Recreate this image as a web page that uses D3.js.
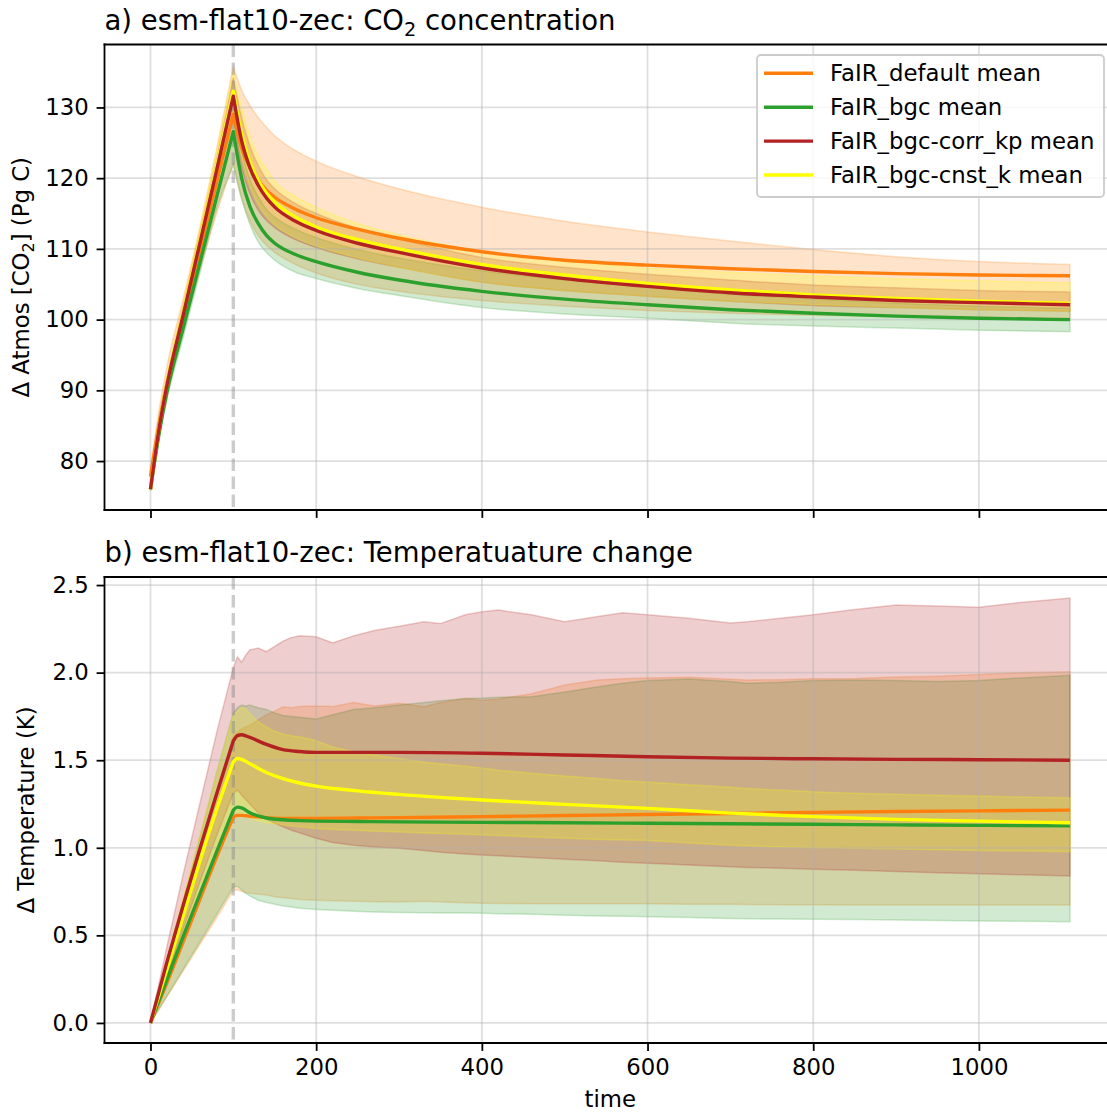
<!DOCTYPE html>
<html>
<head>
<meta charset="utf-8">
<script src="https://cdn.jsdelivr.net/npm/d3@7"></script>
<style>
  body { margin: 0; background: #fff; }
  text { font-family: "DejaVu Sans", sans-serif; fill: #000; }
</style>
</head>
<body>
<svg id="fig" width="1107" height="1113"></svg>
<script>
// ---------------- data: panel a, atmospheric CO2 (Pg C) ----------------
const tCo2 = [0, 10, 20, 40, 60, 80, 100, 110, 120, 130, 140, 150, 175, 200, 250, 300, 400, 500, 600, 700, 800, 900, 1000, 1110];

const co2DefaultMean = [77.8, 85.0, 91.0, 100.6, 110.0, 119.5, 129.0, 124.3, 121.5, 119.7, 118.3, 117.3, 115.6, 114.4, 112.8, 111.5, 109.6, 108.4, 107.7, 107.2, 106.8, 106.5, 106.3, 106.2];
const co2DefaultLo   = [77.0, 84.0, 89.8, 98.7, 107.2, 115.0, 122.1, 117.3, 114.0, 111.9, 110.5, 109.5, 107.8, 106.6, 105.0, 104.0, 102.7, 101.9, 101.3, 100.9, 100.6, 100.4, 100.3, 100.2];
const co2DefaultHi   = [79.0, 87.0, 93.5, 103.2, 113.2, 124.2, 135.8, 132.5, 130.3, 128.6, 127.2, 126.0, 123.9, 122.4, 120.2, 118.5, 115.9, 113.9, 112.4, 111.1, 109.9, 108.9, 108.2, 107.8];

const co2BgcMean = [76.0, 83.6, 89.8, 99.0, 108.2, 117.4, 126.6, 120.0, 116.0, 113.6, 111.9, 110.8, 109.2, 108.2, 106.7, 105.6, 104.0, 102.9, 102.1, 101.4, 100.9, 100.5, 100.2, 100.0];
const co2BgcLo   = [75.8, 83.2, 88.8, 97.7, 106.7, 115.7, 121.8, 117.0, 113.5, 111.0, 109.5, 108.4, 106.7, 105.8, 104.4, 103.4, 101.7, 100.8, 100.2, 99.5, 99.1, 98.8, 98.5, 98.3];
const co2BgcHi   = [76.5, 84.7, 90.6, 100.1, 109.6, 119.2, 130.0, 124.0, 119.8, 117.4, 115.6, 114.5, 112.8, 111.6, 109.9, 108.7, 106.9, 105.6, 104.6, 103.6, 102.9, 102.3, 101.9, 101.6];

const co2CorrMean = [76.0, 84.3, 90.8, 100.9, 111.0, 121.2, 131.6, 125.3, 121.5, 119.0, 117.2, 115.9, 113.9, 112.6, 110.8, 109.5, 107.3, 105.8, 104.7, 103.8, 103.2, 102.7, 102.4, 102.1];
const co2CorrLo   = [75.8, 84.1, 90.0, 99.8, 109.6, 119.5, 128.8, 121.5, 117.8, 115.5, 114.0, 113.0, 111.3, 110.2, 108.6, 107.4, 105.3, 104.1, 103.3, 102.6, 102.0, 101.7, 101.4, 101.2];
const co2CorrHi   = [76.3, 85.6, 91.7, 102.1, 112.4, 122.8, 134.2, 128.6, 124.6, 121.8, 119.8, 118.5, 116.4, 115.0, 112.9, 111.4, 108.8, 107.4, 106.4, 105.6, 104.9, 104.5, 104.1, 103.9];

const co2CnstMean = [76.0, 84.4, 91.0, 101.2, 111.4, 121.7, 132.3, 126.3, 122.3, 119.7, 117.9, 116.6, 114.5, 113.1, 111.3, 110.0, 107.8, 106.3, 105.1, 104.2, 103.5, 103.0, 102.6, 102.3];
const co2CnstLo   = [75.8, 84.3, 90.2, 100.1, 110.1, 120.1, 129.5, 123.0, 118.9, 116.3, 114.6, 113.4, 111.6, 110.4, 108.7, 107.4, 105.3, 104.1, 103.3, 102.6, 102.1, 101.7, 101.4, 101.2];
const co2CnstHi   = [76.5, 85.9, 92.1, 102.6, 113.1, 123.9, 135.3, 130.0, 126.0, 123.2, 121.3, 119.6, 117.4, 115.9, 113.6, 112.0, 109.6, 108.2, 107.3, 106.7, 106.2, 105.8, 105.5, 105.2];

// ---------------- data: panel b, temperature change (K) ----------------
const tTemp = [0, 20, 40, 60, 80, 100, 105, 110, 120, 140, 160, 180, 200, 250, 300, 400, 500, 600, 700, 800, 900, 1000, 1110];

const tempDefaultMean = [0, 0.23, 0.47, 0.71, 0.95, 1.175, 1.185, 1.185, 1.18, 1.172, 1.168, 1.167, 1.168, 1.17, 1.172, 1.178, 1.184, 1.19, 1.196, 1.202, 1.207, 1.211, 1.215];
const tempBgcMean     = [0, 0.25, 0.50, 0.74, 0.98, 1.215, 1.232, 1.228, 1.20, 1.17, 1.16, 1.155, 1.152, 1.15, 1.148, 1.145, 1.143, 1.14, 1.137, 1.134, 1.131, 1.128, 1.125];
const tempCorrMean    = [0, 0.35, 0.68, 1.00, 1.31, 1.61, 1.64, 1.645, 1.63, 1.59, 1.56, 1.55, 1.545, 1.545, 1.545, 1.54, 1.53, 1.52, 1.512, 1.508, 1.505, 1.503, 1.50];
const tempCnstMean    = [0, 0.31, 0.62, 0.93, 1.22, 1.49, 1.51, 1.505, 1.48, 1.43, 1.395, 1.37, 1.352, 1.325, 1.305, 1.273, 1.248, 1.225, 1.198, 1.178, 1.162, 1.152, 1.143];

const tTempBand = [0, 20, 40, 60, 80, 100, 105, 110, 115, 120, 130, 140, 150, 160, 170, 180, 200, 220, 245, 270, 300, 330, 350, 380, 400, 420, 460, 500, 540, 570, 600, 650, 700, 720, 760, 800, 850, 900, 950, 1000, 1050, 1110];

const tempDefaultLo = [0.00, 0.15, 0.30, 0.45, 0.60, 0.755, 0.76, 0.75, 0.745, 0.74, 0.735, 0.73, 0.72, 0.715, 0.71, 0.705, 0.70, 0.698, 0.695, 0.692, 0.69, 0.695, 0.69, 0.686, 0.683, 0.682, 0.681, 0.68, 0.68, 0.68, 0.68, 0.678, 0.677, 0.676, 0.675, 0.675, 0.674, 0.674, 0.673, 0.673, 0.673, 0.673];
const tempDefaultHi = [0.00, 0.33, 0.66, 0.99, 1.32, 1.64, 1.66, 1.68, 1.69, 1.70, 1.73, 1.76, 1.78, 1.805, 1.80, 1.806, 1.81, 1.806, 1.83, 1.81, 1.825, 1.806, 1.83, 1.853, 1.843, 1.85, 1.88, 1.929, 1.958, 1.965, 1.97, 1.973, 1.962, 1.958, 1.96, 1.965, 1.967, 1.975, 1.98, 1.99, 2.00, 2.005];

const tempBgcLo = [0.00, 0.155, 0.31, 0.465, 0.62, 0.775, 0.78, 0.76, 0.74, 0.725, 0.70, 0.688, 0.678, 0.668, 0.662, 0.655, 0.648, 0.643, 0.638, 0.634, 0.63, 0.629, 0.628, 0.627, 0.626, 0.624, 0.62, 0.615, 0.611, 0.609, 0.607, 0.602, 0.597, 0.595, 0.593, 0.592, 0.59, 0.588, 0.585, 0.582, 0.58, 0.578];
const tempBgcHi = [0.00, 0.36, 0.71, 1.07, 1.43, 1.77, 1.80, 1.815, 1.81, 1.815, 1.80, 1.79, 1.77, 1.755, 1.75, 1.745, 1.735, 1.76, 1.79, 1.80, 1.815, 1.83, 1.84, 1.853, 1.855, 1.86, 1.862, 1.89, 1.92, 1.94, 1.955, 1.963, 1.95, 1.94, 1.945, 1.955, 1.958, 1.955, 1.95, 1.955, 1.97, 1.985];

const tempCorrLo = [0.00, 0.27, 0.54, 0.81, 1.07, 1.31, 1.33, 1.30, 1.275, 1.25, 1.20, 1.165, 1.14, 1.12, 1.10, 1.085, 1.055, 1.03, 1.015, 1.005, 0.997, 0.985, 0.975, 0.965, 0.959, 0.954, 0.945, 0.935, 0.926, 0.918, 0.912, 0.902, 0.892, 0.888, 0.883, 0.878, 0.872, 0.865, 0.858, 0.852, 0.846, 0.839];
const tempCorrHi = [0.00, 0.44, 0.86, 1.26, 1.66, 2.03, 2.09, 2.06, 2.10, 2.13, 2.14, 2.12, 2.15, 2.18, 2.20, 2.21, 2.205, 2.17, 2.21, 2.24, 2.265, 2.29, 2.28, 2.33, 2.348, 2.357, 2.33, 2.29, 2.32, 2.342, 2.33, 2.31, 2.283, 2.29, 2.31, 2.33, 2.36, 2.386, 2.38, 2.374, 2.40, 2.426];

const tempCnstLo = [0.00, 0.23, 0.47, 0.71, 0.95, 1.18, 1.19, 1.19, 1.18, 1.17, 1.155, 1.145, 1.137, 1.13, 1.125, 1.12, 1.11, 1.105, 1.10, 1.095, 1.09, 1.085, 1.082, 1.077, 1.073, 1.07, 1.062, 1.055, 1.048, 1.044, 1.041, 1.028, 1.015, 1.01, 1.005, 1.00, 0.997, 0.993, 0.989, 0.985, 0.982, 0.978];
const tempCnstHi = [0.00, 0.37, 0.73, 1.08, 1.43, 1.76, 1.78, 1.80, 1.795, 1.765, 1.72, 1.69, 1.665, 1.65, 1.64, 1.634, 1.612, 1.575, 1.55, 1.53, 1.51, 1.49, 1.48, 1.465, 1.455, 1.443, 1.425, 1.41, 1.395, 1.383, 1.375, 1.36, 1.345, 1.339, 1.33, 1.32, 1.311, 1.305, 1.30, 1.295, 1.29, 1.286];

// ---------------- labels & ticks ----------------
const runNames  = ["FaIR_default mean", "FaIR_bgc mean", "FaIR_bgc-corr_kp mean", "FaIR_bgc-cnst_k mean"];
const runColors = ["#ff7f0e", "#2ca02c", "#b22222", "#ffff00"];
const xTicks    = [0, 200, 400, 600, 800, 1000];
const co2Ticks  = [80, 90, 100, 110, 120, 130];
const tempTicks = [0, 0.5, 1.0, 1.5, 2.0, 2.5];
const emissionStop = 100;   // end of the flat10 emission phase

// ---------------- assemble series ----------------
const runs = runNames.map((name, i) => ({ name, color: runColors[i] }));
runs[0].co2 = { mean: co2DefaultMean, lo: co2DefaultLo, hi: co2DefaultHi };
runs[1].co2 = { mean: co2BgcMean, lo: co2BgcLo, hi: co2BgcHi };
runs[2].co2 = { mean: co2CorrMean, lo: co2CorrLo, hi: co2CorrHi };
runs[3].co2 = { mean: co2CnstMean, lo: co2CnstLo, hi: co2CnstHi };
runs[0].temp = { mean: tempDefaultMean, lo: tempDefaultLo, hi: tempDefaultHi };
runs[1].temp = { mean: tempBgcMean, lo: tempBgcLo, hi: tempBgcHi };
runs[2].temp = { mean: tempCorrMean, lo: tempCorrLo, hi: tempCorrHi };
runs[3].temp = { mean: tempCnstMean, lo: tempCnstLo, hi: tempCnstHi };

// ---------------- layout ----------------
const svg = d3.select("#fig");
const FS = 22.8, TITLE_FS = 27.5;
const axLeft = 104.5, axRight = 1116;
const x = d3.scaleLinear().domain([-55.5, 1165.5]).range([axLeft, axRight]);

const panels = [
  { key: "co2", top: 44.5, bottom: 510, domain: [73.08, 138.9], ticks: co2Ticks, fmt: d3.format("d"),
    bandT: tCo2, meanT: tCo2, bandCurve: d3.curveMonotoneX, xLabels: false,
    title: ["a) esm-flat10-zec: CO", "2", " concentration"], ylabel: ["\u0394 Atmos [CO", "2", "] (Pg C)"], ylabelX: 29 },
  { key: "temp", top: 577, bottom: 1043, domain: [-0.1145, 2.546], ticks: tempTicks, fmt: d3.format(".1f"),
    bandT: tTempBand, meanT: tTemp, bandCurve: d3.curveLinear, xLabels: true,
    title: ["b) esm-flat10-zec: Temperatuature change"], ylabel: ["\u0394 Temperature (K)"], ylabelX: 34 }
];

// path through points with a sharp corner at index k (each side smoothed separately)
function kinkedLine(gen, pts, k) {
  if (k < 0) return gen(pts);
  return gen(pts.slice(0, k + 1)) + gen(pts.slice(k)).replace(/^M/, "L");
}

function bandPath(t, lo, hi, y, curve) {
  const gen = d3.line().curve(curve);
  const k = t.indexOf(emissionStop);
  const up = t.map((d, i) => [x(d), y(hi[i])]);
  const dn = t.map((d, i) => [x(d), y(lo[i])]).reverse();
  const upper = kinkedLine(gen, up, k);
  const lower = kinkedLine(gen, dn, k < 0 ? -1 : t.length - 1 - k);
  return upper + "L" + lower.slice(1) + "Z";
}

function writeRich(sel, parts, fs) {
  // parts: [text, subscript, text] ; subscript drawn smaller and lowered
  sel.append("tspan").text(parts[0]);
  if (parts.length > 1) {
    const shift = fs * 0.22;
    sel.append("tspan").attr("dy", shift).attr("font-size", fs * 0.7).text(parts[1]);
    sel.append("tspan").attr("dy", -shift).text(parts[2]);
  }
}

panels.forEach((p, pi) => {
  const y = d3.scaleLinear().domain(p.domain).range([p.bottom, p.top]);
  const g = svg.append("g");
  const clipId = "clip" + pi;
  svg.append("clipPath").attr("id", clipId).append("rect")
    .attr("x", axLeft).attr("y", p.top).attr("width", axRight - axLeft).attr("height", p.bottom - p.top);

  const plot = g.append("g").attr("clip-path", `url(#${clipId})`);

  // spread bands
  runs.forEach(r => {
    const s = r[p.key];
    plot.append("path")
      .attr("d", bandPath(p.bandT, s.lo, s.hi, y, p.bandCurve))
      .attr("fill", r.color).attr("fill-opacity", 0.22)
      .attr("stroke", r.color).attr("stroke-opacity", 0.22).attr("stroke-width", 1.5);
  });

  // grid
  plot.append("g").selectAll("line").data(xTicks).join("line")
    .attr("x1", d => x(d)).attr("x2", d => x(d)).attr("y1", p.top).attr("y2", p.bottom)
    .attr("stroke", "#b0b0b0").attr("stroke-opacity", 0.4).attr("stroke-width", 1.8);
  plot.append("g").selectAll("line").data(p.ticks).join("line")
    .attr("x1", axLeft).attr("x2", axRight).attr("y1", d => y(d)).attr("y2", d => y(d))
    .attr("stroke", "#b0b0b0").attr("stroke-opacity", 0.4).attr("stroke-width", 1.8);

  // end of emissions marker
  plot.append("line")
    .attr("x1", x(emissionStop)).attr("x2", x(emissionStop)).attr("y1", p.top).attr("y2", p.bottom)
    .attr("stroke", "gray").attr("stroke-opacity", 0.4).attr("stroke-width", 3.4)
    .attr("stroke-dasharray", "12.6,5.4");

  // ensemble means
  const gen = d3.line().curve(d3.curveMonotoneX);
  const k = p.meanT.indexOf(emissionStop);
  [0, 1, 3, 2].forEach(i => {
    const r = runs[i];
    const pts = p.meanT.map((d, j) => [x(d), y(r[p.key].mean[j])]);
    plot.append("path").attr("d", kinkedLine(gen, pts, k))
      .attr("fill", "none").attr("stroke", r.color).attr("stroke-width", 3.4)
      .attr("stroke-linejoin", "round").attr("stroke-linecap", "butt");
  });

  // axes
  const xa = g.append("g").attr("transform", `translate(0,${p.bottom})`)
    .call(d3.axisBottom(x).tickValues(xTicks).tickSize(7.9).tickPadding(7.9)
      .tickFormat(p.xLabels ? d3.format("d") : ""));
  const ya = g.append("g").attr("transform", `translate(${axLeft},0)`)
    .call(d3.axisLeft(y).tickValues(p.ticks).tickSize(7.9).tickPadding(7.9).tickFormat(p.fmt));
  [xa, ya].forEach(a => {
    a.select(".domain").remove();
    a.attr("font-size", FS).attr("font-family", "DejaVu Sans");
    a.selectAll(".tick line").attr("stroke", "#000").attr("stroke-width", 1.8);
    a.selectAll(".tick text").attr("fill", "#000");
  });

  // spines
  const sp = g.append("g").attr("stroke", "#000").attr("stroke-width", 1.8).attr("stroke-linecap", "square");
  sp.append("line").attr("x1", axLeft).attr("x2", axLeft).attr("y1", p.top).attr("y2", p.bottom);
  sp.append("line").attr("x1", axRight).attr("x2", axRight).attr("y1", p.top).attr("y2", p.bottom);
  sp.append("line").attr("x1", axLeft).attr("x2", axRight).attr("y1", p.top).attr("y2", p.top);
  sp.append("line").attr("x1", axLeft).attr("x2", axRight).attr("y1", p.bottom).attr("y2", p.bottom);

  // title
  const tt = g.append("text").attr("x", axLeft).attr("y", p.top - 15).attr("font-size", TITLE_FS);
  writeRich(tt, p.title, TITLE_FS);

  // y label
  const yl = g.append("text")
    .attr("transform", `translate(${p.ylabelX},${(p.top + p.bottom) / 2}) rotate(-90)`)
    .attr("text-anchor", "middle").attr("font-size", FS);
  writeRich(yl, p.ylabel, FS);

  if (p.xLabels) {
    g.append("text").attr("x", (axLeft + axRight) / 2).attr("y", 1107)
      .attr("text-anchor", "middle").attr("font-size", FS).text("time");
  }

  // legend (panel a only)
  if (pi === 0) {
    const lg = g.append("g");
    lg.append("rect").attr("x", 757).attr("y", 55).attr("width", 347).attr("height", 142)
      .attr("rx", 4).attr("fill", "#fff").attr("fill-opacity", 0.8)
      .attr("stroke", "#cccccc").attr("stroke-width", 1.8);
    runs.forEach((r, i) => {
      const cy = 73.3 + i * 33.9;
      lg.append("line").attr("x1", 764).attr("x2", 813).attr("y1", cy).attr("y2", cy)
        .attr("stroke", r.color).attr("stroke-width", 3.4);
      lg.append("text").attr("x", 830).attr("y", cy + 8).attr("font-size", FS).text(r.name);
    });
  }
});
</script>
</body>
</html>
